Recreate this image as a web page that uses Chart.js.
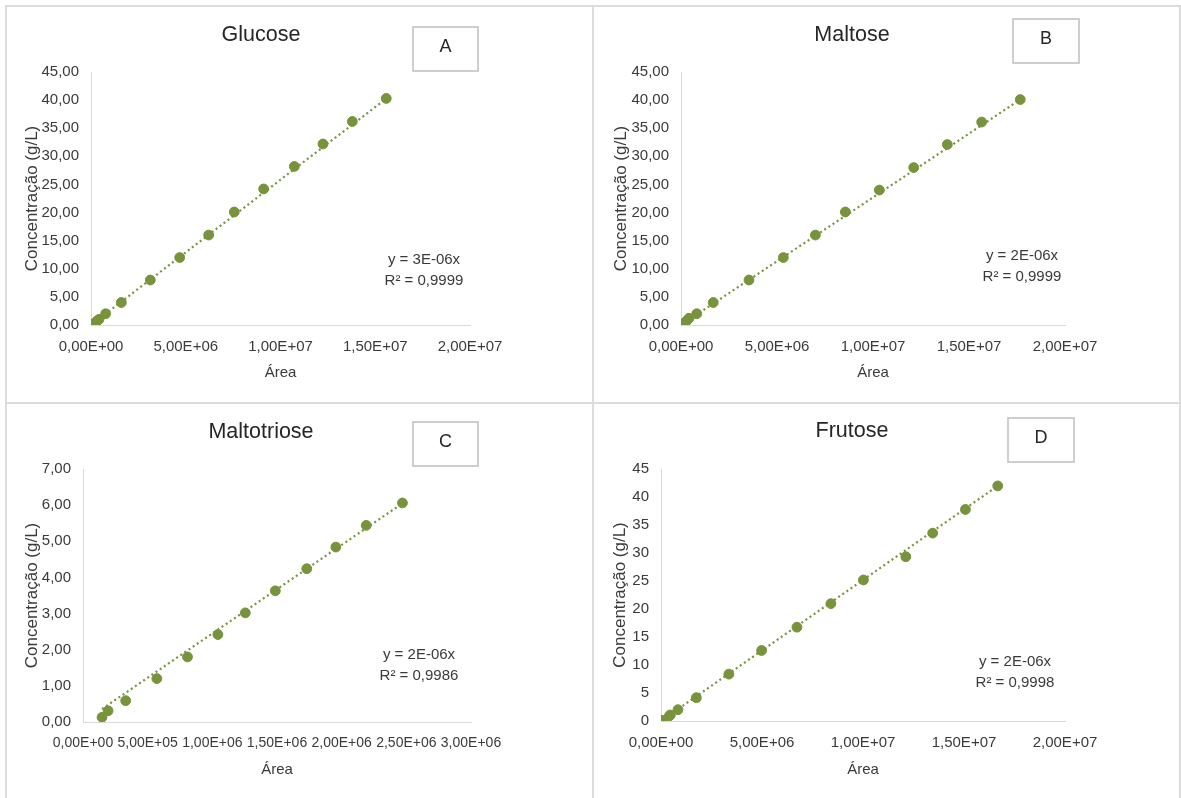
<!DOCTYPE html>
<html>
<head>
<meta charset="utf-8">
<script src="https://cdn.jsdelivr.net/npm/chart.js@4"></script>
<style>
  body { margin: 0; background: #fff; width: 1181px; height: 798px; overflow: hidden; position: relative; }
  canvas { position: absolute; }
  .rule { position: absolute; background: #dcdcdc; }
</style>
</head>
<body>
<canvas id="chartA" width="587" height="397" style="left:6px;top:6px"></canvas>
<canvas id="chartB" width="587" height="397" style="left:593px;top:6px"></canvas>
<canvas id="chartC" width="587" height="395" style="left:6px;top:403px"></canvas>
<canvas id="chartD" width="587" height="395" style="left:593px;top:403px"></canvas>

<div class="rule" style="left:5px;top:5px;width:1176px;height:2px"></div>
<div class="rule" style="left:5px;top:5px;width:2px;height:793px"></div>
<div class="rule" style="left:592px;top:5px;width:2px;height:793px"></div>
<div class="rule" style="left:1179px;top:5px;width:2px;height:793px"></div>
<div class="rule" style="left:5px;top:402px;width:1176px;height:2px"></div>

<script>
// Glucose (A)
const glucoseArea = [0.09e6, 0.33e6, 0.42e6, 0.77e6, 1.60e6, 3.13e6, 4.68e6, 6.21e6, 7.56e6, 9.11e6, 10.73e6, 12.24e6, 13.79e6, 15.58e6];
const glucoseConc = [0.2, 0.75, 1.0, 2.0, 4.0, 8.0, 12.0, 16.0, 20.1, 24.2, 28.2, 32.2, 36.2, 40.3];
const glucoseTrendArea = [0.09e6, 15.58e6];
const glucoseTrendConc = [0.23, 40.26];

// Maltose (B)
const maltoseArea = [0.09e6, 0.30e6, 0.42e6, 0.82e6, 1.68e6, 3.54e6, 5.33e6, 7.00e6, 8.56e6, 10.33e6, 12.12e6, 13.87e6, 15.66e6, 17.67e6];
const maltoseConc = [0.2, 0.77, 1.2, 2.0, 4.0, 8.0, 12.0, 16.0, 20.1, 24.0, 28.0, 32.1, 36.1, 40.1];
const maltoseTrendArea = [0.09e6, 17.67e6];
const maltoseTrendConc = [0.2, 40.1];

// Maltotriose (C)
const maltotrioseArea = [0.147e6, 0.194e6, 0.33e6, 0.571e6, 0.808e6, 1.043e6, 1.255e6, 1.487e6, 1.73e6, 1.955e6, 2.19e6, 2.47e6];
const maltotrioseConc = [0.13, 0.31, 0.59, 1.2, 1.8, 2.42, 3.02, 3.63, 4.24, 4.84, 5.44, 6.06];
const maltotrioseTrendArea = [0.147e6, 2.47e6];
const maltotrioseTrendConc = [0.36, 6.05];

// Frutose (D)
const frutoseArea = [0.05e6, 0.41e6, 0.46e6, 0.84e6, 1.75e6, 3.36e6, 4.98e6, 6.73e6, 8.41e6, 10.02e6, 12.12e6, 13.45e6, 15.07e6, 16.67e6];
const frutoseConc = [0.12, 0.89, 1.07, 2.02, 4.16, 8.37, 12.59, 16.75, 20.96, 25.18, 29.33, 33.55, 37.77, 41.98];
const frutoseTrendArea = [0.05e6, 16.67e6];
const frutoseTrendConc = [0.13, 41.98];

const green = "#77933C";
const textColor = "#3a3a3a";
const axisColor = "#d9d9d9";
Chart.defaults.font.family = "'Liberation Sans', Arial, sans-serif";
Chart.defaults.color = textColor;

function sciLabel(v) {
  if (v === 0) return "0,00E+00";
  const e = Math.floor(Math.log10(v) + 1e-9);
  const m = v / Math.pow(10, e);
  return m.toFixed(2).replace(".", ",") + "E+" + String(e).padStart(2, "0");
}

// titles, letter boxes and trendline equations
const panelText = {
  id: "panelText",
  afterDraw(chart, args, o) {
    const ctx = chart.ctx;
    ctx.save();
    ctx.fillStyle = "#262626";
    ctx.textAlign = "center";
    ctx.textBaseline = "middle";
    ctx.font = "21.5px 'Liberation Sans', Arial, sans-serif";
    ctx.fillText(o.title, o.titleX, o.titleY);

    const [bx, by, bw, bh] = o.box;
    ctx.fillStyle = "#fff";
    ctx.fillRect(bx, by, bw, bh);
    ctx.strokeStyle = "#bfbfbf";
    ctx.lineWidth = 1.5;
    ctx.strokeRect(bx, by, bw, bh);
    ctx.fillStyle = "#262626";
    ctx.font = "18px 'Liberation Sans', Arial, sans-serif";
    ctx.fillText(o.letter, bx + bw / 2, by + bh / 2 - 2);

    ctx.fillStyle = textColor;
    ctx.font = "15px 'Liberation Sans', Arial, sans-serif";
    ctx.fillText(o.eq[0], o.eqX, o.eqY);
    ctx.fillText(o.eq[1], o.eqX, o.eqY + 21);
    ctx.restore();
  }
};

function makeChart(id, p) {
  const pts = p.area.map((x, i) => ({ x: x, y: p.conc[i] }));
  const trend = p.trendArea.map((x, i) => ({ x: x, y: p.trendConc[i] }));
  return new Chart(document.getElementById(id).getContext("2d"), {
    type: "scatter",
    data: {
      datasets: [
        { data: pts, backgroundColor: green, borderColor: green, pointRadius: 4.9, pointHoverRadius: 4.9, order: 1 },
        { type: "line", data: trend, borderColor: green, borderWidth: 2.2, borderDash: [2, 3], pointRadius: 0, fill: false, order: 2 }
      ]
    },
    options: {
      responsive: false,
      animation: false,
      events: [],
      layout: { padding: p.pad },
      plugins: {
        legend: { display: false },
        tooltip: { enabled: false },
        panelText: p.text
      },
      scales: {
        x: {
          type: "linear", min: 0, max: p.xMax,
          ticks: { stepSize: p.xStep, callback: sciLabel, autoSkip: false, maxRotation: 0, padding: 13, font: { size: p.xFont } },
          grid: { display: false, drawTicks: false },
          border: { color: axisColor, width: 1 },
          title: { display: true, text: "Área", font: { size: 15 }, padding: 0 },
          afterFit: (s) => { s.height = p.xH; }
        },
        y: {
          min: 0, max: p.yMax,
          ticks: { stepSize: p.yStep, callback: p.yFmt, padding: 12, font: { size: 15 } },
          grid: { display: false, drawTicks: false },
          border: { color: axisColor, width: 1 },
          title: { display: true, text: "Concentração (g/L)", font: { size: 17 }, padding: 0 },
          afterFit: (s) => { s.width = p.yW; }
        }
      }
    },
    plugins: [panelText]
  });
}

const dec2 = (v) => v.toFixed(2).replace(".", ",");
const int0 = (v) => String(v);

makeChart("chartA", {
  area: glucoseArea, conc: glucoseConc, trendArea: glucoseTrendArea, trendConc: glucoseTrendConc,
  xMax: 2e7, xStep: 5e6, yMax: 45, yStep: 5, yFmt: dec2, xFont: 15,
  pad: { left: 16, top: 66, right: 123, bottom: 21 }, yW: 69, xH: 57,
  text: { title: "Glucose", titleX: 255, titleY: 29, letter: "A", box: [407, 21, 65, 44], eq: ["y = 3E-06x", "R² = 0,9999"], eqX: 418, eqY: 254 }
});
makeChart("chartB", {
  area: maltoseArea, conc: maltoseConc, trendArea: maltoseTrendArea, trendConc: maltoseTrendConc,
  xMax: 2e7, xStep: 5e6, yMax: 45, yStep: 5, yFmt: dec2, xFont: 15,
  pad: { left: 18, top: 66, right: 115, bottom: 21 }, yW: 70, xH: 57,
  text: { title: "Maltose", titleX: 259, titleY: 29, letter: "B", box: [420, 13, 66, 44], eq: ["y = 2E-06x", "R² = 0,9999"], eqX: 429, eqY: 250 }
});
makeChart("chartC", {
  area: maltotrioseArea, conc: maltotrioseConc, trendArea: maltotrioseTrendArea, trendConc: maltotrioseTrendConc,
  xMax: 3e6, xStep: 5e5, yMax: 7, yStep: 1, yFmt: dec2, xFont: 14,
  pad: { left: 16, top: 66, right: 122, bottom: 19 }, yW: 61, xH: 57,
  text: { title: "Maltotriose", titleX: 255, titleY: 29, letter: "C", box: [407, 19, 65, 44], eq: ["y = 2E-06x", "R² = 0,9986"], eqX: 413, eqY: 252 }
});
makeChart("chartD", {
  area: frutoseArea, conc: frutoseConc, trendArea: frutoseTrendArea, trendConc: frutoseTrendConc,
  xMax: 2e7, xStep: 5e6, yMax: 45, yStep: 5, yFmt: int0, xFont: 15,
  pad: { left: 17, top: 66, right: 115, bottom: 19 }, yW: 51, xH: 58,
  text: { title: "Frutose", titleX: 259, titleY: 28, letter: "D", box: [415, 15, 66, 44], eq: ["y = 2E-06x", "R² = 0,9998"], eqX: 422, eqY: 259 }
});
</script>
</body>
</html>
